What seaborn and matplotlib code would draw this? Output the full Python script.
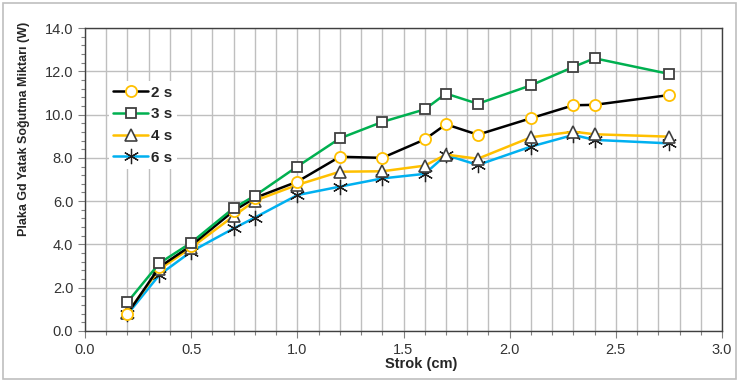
import matplotlib
matplotlib.use("Agg")
import matplotlib.pyplot as plt
from matplotlib.patches import Rectangle
from matplotlib.ticker import MultipleLocator, FormatStrFormatter
import seaborn as sns
import pandas as pd

strok = [0.2, 0.35, 0.5, 0.7, 0.8, 1.0, 1.2, 1.4, 1.6, 1.7, 1.85, 2.1, 2.3, 2.4, 2.75]
s2 = [0.80, 2.95, 3.95, 5.55, 6.15, 6.90, 8.05, 8.00, 8.85, 9.55, 9.07, 9.83, 10.43, 10.45, 10.90]
s3 = [1.33, 3.13, 4.08, 5.68, 6.25, 7.60, 8.90, 9.66, 10.24, 10.97, 10.50, 11.35, 12.20, 12.60, 11.88]
s4 = [0.85, 2.85, 3.85, 5.31, 6.02, 6.75, 7.36, 7.38, 7.64, 8.15, 7.96, 8.95, 9.21, 9.09, 8.98]
s6 = [0.77, 2.59, 3.67, 4.74, 5.24, 6.28, 6.67, 7.05, 7.26, 8.13, 7.67, 8.52, 9.06, 8.83, 8.67]
labels = ["2 s", "3 s", "4 s", "6 s"]
x_ticks = [0.0, 0.5, 1.0, 1.5, 2.0, 2.5, 3.0]
y_ticks = [0, 2, 4, 6, 8, 10, 12, 14]

sns.set_theme(style="white")
plt.rcParams["font.family"] = ["Liberation Sans", "DejaVu Sans"]

fig = plt.figure(figsize=(7.39, 3.81), dpi=100)
ax = fig.add_axes([85/739, 1-331/381, (722-85)/739, (331-28)/381])

styles = [
    dict(color="#000000", marker="o", mfc="white", mec="#FFC000", ms=8, mew=1.3),
    dict(color="#00B050", marker="s", mfc="white", mec="#404040", ms=7, mew=1.3),
    dict(color="#FFC000", marker="^", mfc="white", mec="#404040", ms=8, mew=1.2),
    dict(color="#00B0F0", marker=(6, 2, 0), mfc="none", mec="#202020", ms=11, mew=0.9),
]
series = [s2, s3, s4, s6]
zorders = [4, 5, 3, 2]
for lab, vals, st, z in zip(labels, series, styles, zorders):
    df = pd.DataFrame({"Strok": strok, "Deger": vals})
    sns.lineplot(data=df, x="Strok", y="Deger", ax=ax, label=lab, color=st["color"],
                 marker=st["marker"], markerfacecolor=st["mfc"], markeredgecolor=st["mec"],
                 markersize=st["ms"], markeredgewidth=st["mew"], linewidth=1.8, zorder=z)

ax.set_xlim(0, 3.0)
ax.set_ylim(0, 14)
ax.set_xticks(x_ticks)
ax.set_yticks(y_ticks)
ax.xaxis.set_minor_locator(MultipleLocator(0.1))
ax.yaxis.set_minor_locator(MultipleLocator(0.4))
ax.xaxis.set_major_formatter(FormatStrFormatter("%.1f"))
ax.yaxis.set_major_formatter(FormatStrFormatter("%.1f"))
ax.grid(True, which="major", axis="y", color="#BFBFBF", linewidth=1.0)
ax.grid(True, which="both", axis="x", color="#BFBFBF", linewidth=1.0)
ax.set_axisbelow(True)
for sp in ax.spines.values():
    sp.set_color("#404040")
    sp.set_linewidth(1.0)
ax.tick_params(axis="both", which="major", direction="out", length=5, width=0.8,
               color="#808080", labelsize=10.5, labelcolor="#333333", bottom=True, left=True)
ax.tick_params(axis="both", which="minor", direction="out", length=3, width=0.8,
               color="#808080", bottom=True, left=True)

ax.set_xlabel("Strok (cm)", fontsize=10.5, fontweight="bold", labelpad=1)
ax.set_ylabel("Plaka Gd Yatak Soğutma Miktarı (W)", fontsize=9, fontweight="bold")
ax.xaxis.set_label_coords(0.527, -0.085)
ax.yaxis.set_label_coords(-0.086, 0.667)

leg = ax.legend(loc="upper left", bbox_to_anchor=(0.025, 0.85), frameon=True,
                facecolor="white", edgecolor="none", framealpha=1.0,
                prop={"weight": "bold", "size": 11}, handlelength=2.3,
                handletextpad=0.2, labelspacing=0.5, borderpad=0.3)
leg.get_frame().set_linewidth(0)

fig.patches.append(Rectangle((3/739, 2/381), 733/739, 376/381, transform=fig.transFigure,
                             fill=False, edgecolor="#BFBFBF", linewidth=1.2))

fig.savefig("out.png", dpi=100)
